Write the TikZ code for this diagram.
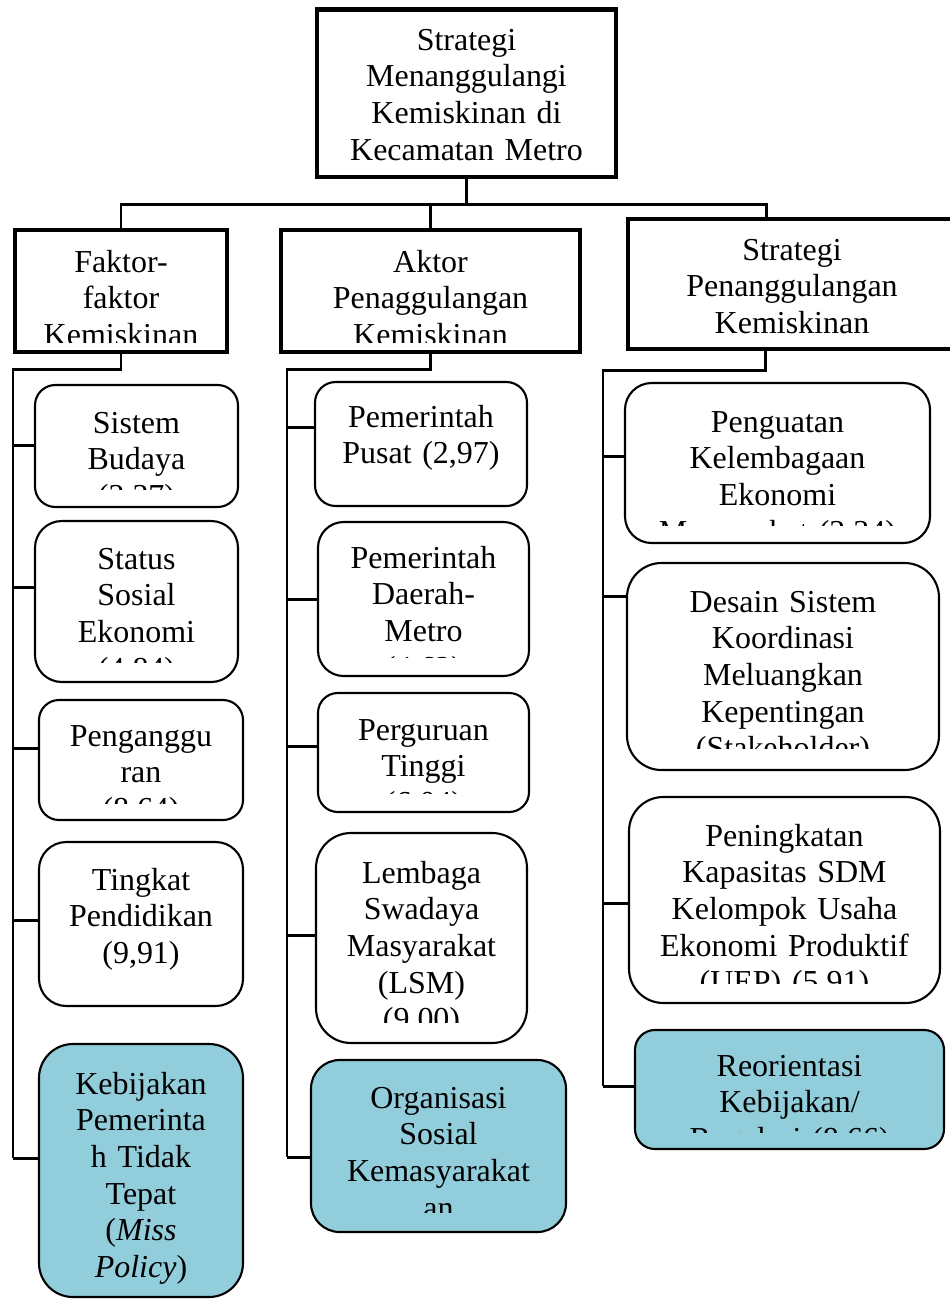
\documentclass[tikz,border=0pt]{standalone}
\usepackage{fontspec}
\setmainfont{Liberation Serif}
\definecolor{aqua}{HTML}{92CDDC}
\tikzset{
    headbox/.style={draw, line width=2.8pt, fill=white, inner sep=0pt},
    leafbox/.style={draw, line width=1.2pt, inner sep=0pt},
    stem/.style={line width=1.7pt},
    label/.style={align=center, inner sep=0pt, anchor=base,
        font=\fontsize{18.2}{20.9}\selectfont},
}
\begin{document}
\begin{tikzpicture}[x=0.02cm, y=-0.02cm]
    \useasboundingbox (0,0) rectangle (950,1299);

    % Header boxes: name/left/top/right/bottom/first baseline/clip/text
    \foreach \n/\xa/\ya/\xb/\yb/\bl/\cl/\txt in {
        top/317/9.5/616/177/50/177/{Strategi\\Menanggulangi\\Kemiskinan di\\Kecamatan Metro},
        hdr1/15/230/227/352/272/342/{Faktor-\\faktor\\Kemiskinan},
        hdr2/281/230/580/352/272/342/{Aktor\\Penaggulangan\\Kemiskinan},
        hdr3/628/219/956/349/260/349/{Strategi\\Penanggulangan\\Kemiskinan}} {
        \pgfmathsetmacro{\bw}{(\xb-\xa)*0.02}
        \pgfmathsetmacro{\bh}{(\yb-\ya)*0.02}
        \pgfmathsetmacro{\tw}{(\xb-\xa-12)*0.02}
        \node[headbox, minimum width=\bw cm, minimum height=\bh cm] (\n) at ({(\xa+\xb)/2},{(\ya+\yb)/2}) {};
        \begin{scope}
            \clip (\xa,\ya) rectangle (\xb,\cl);
            \node[label, text width=\tw cm] at ({(\xa+\xb)/2},\bl) {\txt};
        \end{scope}
    }

    % Bus under the top box
    \coordinate (bus) at (0,204);
    \coordinate (busend) at (766,204);
    \draw[stem] (top.south) -- (top.south |- bus);
    \draw[stem] (hdr1.north) -- (hdr1.north |- bus) -- (busend) -- (busend |- hdr3.north);
    \draw[stem] (hdr2.north) -- (hdr2.north |- bus);

    % Column stems
    \coordinate (col1) at (13,369);
    \coordinate (col2) at (287,369);
    \coordinate (col3) at (603,370);
    \coordinate (col1end) at (13,1158);
    \coordinate (col2end) at (287,1157);
    \coordinate (col3end) at (603,1086);
    \draw[stem] (hdr1.south) |- (col1) -- (col1end);
    \draw[stem] (hdr2.south) |- (col2) -- (col2end);
    \draw[stem] ([xshift=-0.54cm]hdr3.south) |- (col3) -- (col3end);

    % Leaf boxes: name/left/top/right/bottom/first baseline/clip/branch/column/fill/text
    \foreach \n/\xa/\ya/\xb/\yb/\bl/\cl/\br/\col/\fc/\txt in {
        sis/35/385/238/507/433/489/445/col1/white/{Sistem\\Budaya\\(2,37)},
        sta/35/521/238/682/569/662/587/col1/white/{Status\\Sosial\\Ekonomi\\(4,84)},
        pen/39/700/243/820/746/803/748/col1/white/{Penganggu\\ran\\(8,64)},
        tin/39/842/243/1006/890/1006/920/col1/white/{Tingkat\\Pendidikan\\(9,91)},
        keb/39/1044/243/1297/1094/1297/1158/col1/aqua/{Kebijakan\\Pemerinta\\h Tidak\\Tepat\\(\textit{Miss}\\\textit{Policy})},
        pus/315/382/527/506/427/506/427/col2/white/{Pemerintah\\Pusat (2,97)},
        dae/318/522/529/676/568/657/599/col2/white/{Pemerintah\\Daerah-\\Metro\\(4,62)},
        per/318/693/529/812/740/793/746/col2/white/{Perguruan\\Tinggi\\(6,04)},
        lsm/316/833/527/1043/883/1022/935/col2/white/{Lembaga\\Swadaya\\Masyarakat\\(LSM)\\(9,00)},
        org/311/1060/566/1232/1108/1212/1157/col2/aqua/{Organisasi\\Sosial\\Kemasyarakat\\an},
        pgu/625/383/930/543/432/525/456/col3/white/{Penguatan\\Kelembagaan\\Ekonomi\\Masyarakat (2,34)},
        des/627/563/939/770/612/748/596/col3/white/{Desain Sistem\\Koordinasi\\Meluangkan\\Kepentingan\\(Stakeholder)},
        pni/629/797/940/1003/846/983/903/col3/white/{Peningkatan\\Kapasitas SDM\\Kelompok Usaha\\Ekonomi Produktif\\(UEP) (5,91)},
        reo/635/1030/944/1149/1076/1132/1086/col3/aqua/{Reorientasi\\Kebijakan/\\Regulasi (8,66)}} {
        \pgfmathsetmacro{\bw}{(\xb-\xa)*0.02}
        \pgfmathsetmacro{\bh}{(\yb-\ya)*0.02}
        \pgfmathsetmacro{\tw}{(\xb-\xa-8)*0.02}
        \pgfmathsetmacro{\rad}{min(\xb-\xa,\yb-\ya)*0.02/6}
        \node[leafbox, fill=\fc, minimum width=\bw cm, minimum height=\bh cm, rounded corners=\rad cm] (\n) at ({(\xa+\xb)/2},{(\ya+\yb)/2}) {};
        \begin{scope}
            \clip (\xa,\ya) rectangle (\xb,\cl);
            \node[label, text width=\tw cm] at ({(\xa+\xb)/2},\bl) {\txt};
        \end{scope}
        \draw[stem] (\col |- 0,\br) -- (\n.west |- 0,\br);
    }
\end{tikzpicture}
\end{document}
